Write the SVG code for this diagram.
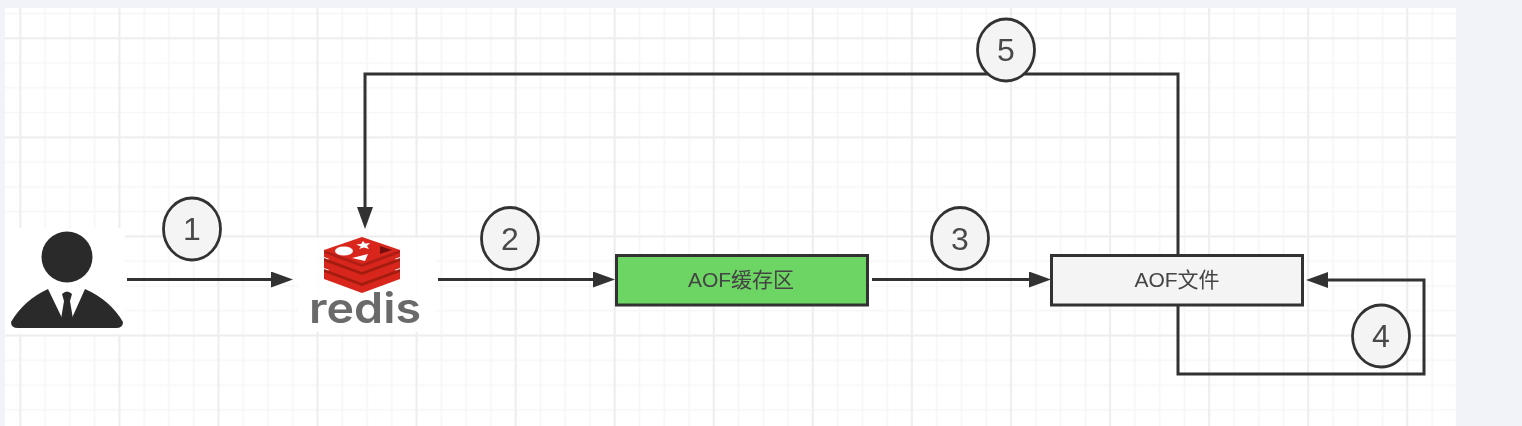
<svg xmlns="http://www.w3.org/2000/svg" width="1522" height="426" viewBox="0 0 1522 426">
<style>
.box{stroke:#333;stroke-width:3}
.lbl{font-family:"Liberation Sans","Noto Sans CJK SC",sans-serif;font-size:21px;fill:#444;text-anchor:middle}
.num{font-family:"Liberation Sans",sans-serif;font-size:32px;fill:#4a4a4a;text-anchor:middle}
.badge{fill:#f4f4f4;stroke:#333;stroke-width:2.8}
.edge{fill:none;stroke:#333;stroke-width:3}
</style>
<defs>
<marker id="arrow" markerUnits="userSpaceOnUse" markerWidth="24" markerHeight="18" refX="2" refY="8" orient="auto"><path d="M0 0L22 8L0 16Z" fill="#333"/></marker>
<pattern id="minor" patternUnits="userSpaceOnUse" x="7.9" y="1.1" width="24.77" height="24.77"><path d="M12.385 0V24.77M0 12.385H24.77" fill="none" stroke="#f6f6f6" stroke-width="1.7"/></pattern>
<pattern id="major" patternUnits="userSpaceOnUse" x="-29.2" y="-11.2" width="99.06" height="99.06"><path d="M49.53 0V99.06M0 49.53H99.06" fill="none" stroke="#eeeeee" stroke-width="1.8"/></pattern>
<filter id="soft" x="-2%" y="-2%" width="104%" height="104%"><feGaussianBlur stdDeviation="0.45"/></filter>
</defs>
<rect width="1522" height="426" fill="#f1f3f9"/>
<rect x="5" y="8" width="1451" height="418" fill="#fff"/>
<rect x="5" y="8" width="1451" height="418" fill="url(#minor)"/>
<rect x="5" y="8" width="1451" height="418" fill="url(#major)"/>
<g filter="url(#soft)">
<g id="user">
<rect x="5" y="228" width="120" height="106" fill="#fff"/>
<circle cx="67" cy="257" r="25.5" fill="#2b2b2b"/>
<path d="M48 289Q24 300 11 322Q11 328 18 328H116Q123 328 123 322Q110 300 85 289L72 318H62Z" fill="#2b2b2b"/>
<path d="M62 294Q67 289 72 294L70 301L73 319L67 324L61 319L64 301Z" fill="#2b2b2b"/>
</g>
<g id="redis">
<rect x="298" y="238" width="138" height="94" fill="#fff" opacity="0.85"/>
<path d="M324 272L362 258L400 272V279L362 293L324 279Z" fill="#d9261c"/>
<path d="M324 272L362 286L400 272V269L362 283L324 269Z" fill="#a41e11"/>
<path d="M324 261L362 247L400 261V268L362 282L324 268Z" fill="#d9261c"/>
<path d="M324 261L362 275L400 261V258L362 272L324 258Z" fill="#a41e11"/>
<path d="M324 250L362 237L400 250V257L362 271L324 257Z" fill="#d9261c"/>
<path d="M324 250L362 264L400 250V253L362 267L324 253Z" fill="#b01f14"/>
<ellipse cx="344" cy="251" rx="9" ry="4.5" fill="#fff"/>
<path d="M363 241L365 243.5L370 243L367 246L369 249L364 247.5L359 249L361 246.5L356 244.5L361 244Z" fill="#fff"/>
<path d="M352 258L368 254L365 261Z" fill="#fff"/>
<path d="M380 246L392 250L380 254Z" fill="#741108"/>
<text x="365" y="322.5" font-family="Inter,sans-serif" font-weight="600" font-size="42" fill="#6a6a6a" text-anchor="middle" textLength="112" lengthAdjust="spacingAndGlyphs">redis</text>
</g>
<g id="connectors">
<path class="edge" d="M127 279.5H273" marker-end="url(#arrow)"/>
<path class="edge" d="M438 279.5H595" marker-end="url(#arrow)"/>
<path class="edge" d="M872 279.5H1031" marker-end="url(#arrow)"/>
<path class="edge" d="M1178 305V374H1424V280H1326" marker-end="url(#arrow)"/>
<path class="edge" d="M1178 255V74H365V209" marker-end="url(#arrow)"/>
</g>
<g id="aof-buffer">
<rect class="box" x="616.5" y="255.5" width="251" height="49.5" fill="#6cd563"/>
<text class="lbl" x="741" y="287">AOF缓存区</text>
</g>
<g id="aof-file">
<rect class="box" x="1051.5" y="255.5" width="251" height="49.5" fill="#f4f4f4"/>
<text class="lbl" x="1177" y="287">AOF文件</text>
</g>
<g id="step-1"><ellipse class="badge" cx="192" cy="229" rx="28.5" ry="31"/><text class="num" x="192" y="240">1</text></g>
<g id="step-2"><ellipse class="badge" cx="510" cy="238.5" rx="28.5" ry="31"/><text class="num" x="510" y="249.5">2</text></g>
<g id="step-3"><ellipse class="badge" cx="960" cy="238.5" rx="28.5" ry="31"/><text class="num" x="960" y="249.5">3</text></g>
<g id="step-4"><ellipse class="badge" cx="1381" cy="336" rx="28.5" ry="31"/><text class="num" x="1381" y="347">4</text></g>
<g id="step-5"><ellipse class="badge" cx="1006" cy="50" rx="28.5" ry="31"/><text class="num" x="1006" y="61">5</text></g>
</g>
</svg>
